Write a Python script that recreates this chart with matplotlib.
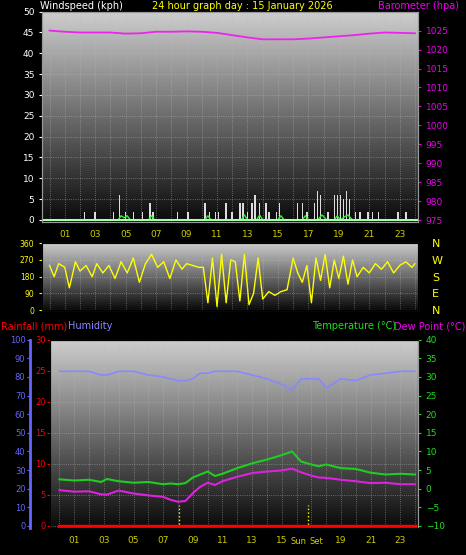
import numpy as np
import matplotlib.pyplot as plt

# ---- data ----
baro_hours = [0, 1, 2, 4, 5, 6, 7, 8, 9, 10, 11, 12, 13, 14, 15, 16, 17, 18, 19, 20, 21, 22, 23, 24]
baro_hpa = [1025, 1024.7, 1024.5, 1024.5, 1024.2, 1024.3, 1024.7, 1024.7, 1024.8, 1024.7, 1024.4, 1023.8,
            1023.2, 1022.7, 1022.7, 1022.7, 1022.9, 1023.2, 1023.5, 1023.8, 1024.2, 1024.5, 1024.4, 1024.3]

gust_hours = [2.3, 3.0, 4.2, 4.6, 5.0, 5.5, 6.1, 6.6, 6.8, 8.4, 9.1, 10.2, 10.5, 10.9, 11.1, 11.6, 12.0,
              12.5, 12.7, 13.0, 13.3, 13.5, 13.8, 14.2, 14.4, 14.9, 15.1, 16.3, 16.6, 16.9, 17.4, 17.6,
              17.8, 18.3, 18.7, 18.9, 19.1, 19.3, 19.5, 19.7, 20.1, 20.4, 20.9, 21.2, 21.6, 22.9, 23.4]
gust_kph = [2, 2, 2, 6, 2, 2, 2, 4, 2, 2, 2, 4, 2, 2, 2, 4, 2, 4, 4, 2, 4, 6, 4, 4, 2, 2, 4, 4, 4, 2, 4, 7,
            6, 2, 6, 6, 6, 5, 7, 5, 2, 2, 2, 2, 2, 2, 2]
avg_hours = [0, 4.5, 4.7, 4.9, 5.1, 5.3, 6.5, 6.7, 6.9, 10.2, 10.4, 10.6, 12.6, 12.8, 13.0, 13.6, 13.8,
             14.0, 15.0, 15.2, 15.4, 16.6, 16.8, 17.0, 17.6, 17.9, 18.2, 18.7, 18.9, 19.1, 19.4, 19.6,
             19.9, 24]
avg_kph = [0, 0, 1, 0.5, 1, 0, 0, 1, 0, 0, 1, 0, 0, 1.2, 0, 0, 1.2, 0, 0, 1, 0, 0, 1, 0, 0, 1.2, 0, 0, 1,
           0, 0.8, 1.2, 0, 0]

dir_hours = [0, 0.3, 0.6, 1.0, 1.3, 1.7, 2.0, 2.4, 2.8, 3.1, 3.5, 3.9, 4.3, 4.7, 5.1, 5.5, 5.9, 6.3, 6.7,
             7.1, 7.5, 7.9, 8.3, 8.7, 9.0, 9.4, 9.8, 10.1, 10.4, 10.7, 11.0, 11.3, 11.6, 11.9, 12.2, 12.5,
             12.8, 13.1, 13.4, 13.7, 14.0, 14.4, 14.8, 15.2, 15.6, 16.0, 16.3, 16.6, 16.9, 17.2, 17.5,
             17.8, 18.1, 18.4, 18.7, 19.0, 19.3, 19.6, 19.9, 20.2, 20.6, 21.0, 21.4, 21.8, 22.2, 22.6,
             23.0, 23.4, 23.8, 24]
dir_deg = [240, 180, 250, 230, 120, 260, 210, 240, 180, 250, 200, 240, 170, 260, 200, 280, 150, 250,
           300, 230, 260, 170, 270, 220, 250, 240, 230, 230, 40, 280, 20, 300, 40, 270, 260, 50, 300,
           30, 90, 280, 60, 100, 80, 100, 110, 280, 200, 150, 240, 40, 280, 160, 300, 120, 270, 170,
           290, 140, 270, 180, 230, 200, 250, 220, 260, 200, 240, 260, 230, 250]

th_hours = [0, 1, 2, 2.8, 3.2, 4, 5, 6, 7, 7.5, 8, 8.5, 9, 9.5, 10, 10.5, 11, 12, 13, 14, 15, 15.7,
            16.3, 17, 17.5, 18, 19, 20, 21, 22, 23, 24]
temp_c = [2.5, 2.2, 2.4, 1.8, 2.6, 2.0, 1.6, 1.8, 1.2, 1.4, 1.2, 1.5, 3.0, 3.8, 4.6, 3.4, 4.0, 5.5,
          6.8, 7.8, 9.0, 10.0, 7.3, 6.5, 6.0, 6.5, 5.5, 5.3, 4.3, 3.8, 4.0, 3.8]
dew_c = [-0.4, -0.8, -0.7, -1.5, -1.6, -0.5, -1.3, -1.8, -2.2, -3.0, -3.5, -3.3, -1.2, 0.5, 1.6, 1.0,
         2.0, 3.2, 4.2, 4.6, 4.9, 5.4, 4.4, 3.5, 3.0, 2.9, 2.4, 2.0, 1.5, 1.6, 1.2, 1.2]
hum_pct = [83, 83, 83, 81, 81, 83, 83, 81, 80, 79, 78, 78, 79, 82, 82, 83, 83, 83, 81, 79, 76, 73, 79,
           79, 79, 74, 79, 78, 81, 82, 83, 83]
rain_mm = [0] * len(th_hours)

sunrise = 8.1
sunset = 16.8

fs = 6.5
tick_col = "#cccc00"

fig = plt.figure(figsize=(4.66, 5.55), dpi=100, facecolor="black")

grad = np.linspace(0, 1, 256).reshape(-1, 1)


def prep(ax, xmin, skip=()):
    ax.set_facecolor("black")
    ax.imshow(grad, cmap="gray", vmin=-0.05, vmax=1.25, aspect="auto",
              extent=[0, 1, 0, 1], transform=ax.transAxes, zorder=0, origin="lower")
    ax.set_xlim(xmin, 24.2)
    ax.set_xticks(range(0, 25))
    ax.set_xticklabels([("%02d" % h if h % 2 == 1 and h not in skip else "") for h in range(0, 25)],
                       color=tick_col, fontsize=fs)
    ax.tick_params(axis="x", length=0, pad=6)
    ax.grid(True, color="#bbbbbb", linestyle=":", linewidth=0.6, alpha=0.6)
    ax.set_axisbelow(False)
    for s in ax.spines.values():
        s.set_color("#999999")


# ---- wind / barometer ----
ax1 = fig.add_axes([0.090, 0.600, 0.807, 0.379])
prep(ax1, -0.5)
ax1.set_ylim(-0.5, 50)
ax1.set_yticks(range(0, 51, 5))
ax1.tick_params(axis="y", colors="white", labelsize=fs, length=2)
ax1.bar(gust_hours, gust_kph, width=0.1, color="#dddddd", zorder=3)
ax1.plot(avg_hours, avg_kph, color="#33ee33", lw=1, zorder=4)
ax1.axhline(0, color="#aaffaa", lw=1.5, zorder=4)
ax1b = ax1.twinx()
ax1b.set_ylim(974.5, 1030)
ax1b.set_yticks(range(975, 1030, 5))
ax1b.tick_params(axis="y", colors="#ee00ee", labelsize=fs, length=2)
for s in ax1b.spines.values():
    s.set_color("#999999")
ax1b.plot(baro_hours, baro_hpa, color="#ee22ee", lw=1.3)

fig.text(0.085, 0.990, "Windspeed (kph)", color="white", fontsize=7, va="center")
fig.text(0.52, 0.990, "24 hour graph day : 15 January 2026", color="yellow", fontsize=7,
         va="center", ha="center")
fig.text(0.985, 0.990, "Barometer (hpa)", color="#ee00ee", fontsize=7, va="center", ha="right")

# ---- wind direction ----
ax2 = fig.add_axes([0.090, 0.441, 0.807, 0.121])
prep(ax2, -0.5)
ax2.set_ylim(0, 360)
ax2.set_yticks([0, 90, 180, 270, 360])
ax2.tick_params(axis="y", colors="yellow", labelsize=fs - 1, length=2)
ax2.set_xticklabels([])
ax2.plot(dir_hours, dir_deg, color="yellow", lw=1)
ax2b = ax2.twinx()
ax2b.set_ylim(0, 360)
ax2b.set_yticks([0, 90, 180, 270, 360])
ax2b.set_yticklabels(["N", "E", "S", "W", "N"])
ax2b.tick_params(axis="y", colors="yellow", labelsize=8, length=0, pad=10)

# ---- temperature / humidity ----
ax3 = fig.add_axes([0.107, 0.049, 0.790, 0.339])
prep(ax3, -0.65, skip=(17,))
ax3.set_ylim(-0.3, 30)
ax3.set_yticks(range(0, 31, 5))
ax3.tick_params(axis="y", colors="red", labelsize=fs - 0.5, length=2, pad=1)
ax3.spines["left"].set_color("red")
ax3.plot(th_hours, rain_mm, color="red", lw=2.5, zorder=5)
ax3.axvline(sunrise, ymax=0.12, color="yellow", ls=":", lw=1)
ax3.axvline(sunset, ymax=0.12, color="yellow", ls=":", lw=1)
ax3.text(sunset - 0.1, -0.05, "Sun", transform=ax3.get_xaxis_transform(), color=tick_col,
         fontsize=fs - 0.5, ha="right", va="top")
ax3.text(sunset + 0.1, -0.05, "Set", transform=ax3.get_xaxis_transform(), color=tick_col,
         fontsize=fs - 0.5, ha="left", va="top")

axh = ax3.twinx()
axh.spines["left"].set_position(("axes", -0.055))
axh.spines["left"].set_visible(True)
axh.spines["left"].set_color("#6666ff")
axh.spines["left"].set_linewidth(2)
axh.yaxis.set_label_position("left")
axh.yaxis.set_ticks_position("left")
axh.set_ylim(-1, 100)
axh.set_yticks(range(0, 101, 10))
axh.tick_params(axis="y", colors="#6666ff", labelsize=fs - 0.5, length=2, pad=1)
axh.plot(th_hours, hum_pct, color="#8888ff", lw=1.2)

axt = ax3.twinx()
axt.set_ylim(-10.5, 40)
axt.set_yticks(range(-10, 41, 5))
axt.tick_params(axis="y", colors="#22dd22", labelsize=fs, length=2)
axt.spines["right"].set_color("#999999")
axt.plot(th_hours, temp_c, color="#22cc22", lw=1.5)
axt.plot(th_hours, dew_c, color="#dd22dd", lw=1.5)

fig.text(0.002, 0.412, "Rainfall (mm)", color="red", fontsize=7, va="center")
fig.text(0.145, 0.412, "Humidity", color="#8888ff", fontsize=7, va="center")
fig.text(0.67, 0.412, "Temperature (\u00b0C)", color="#22dd22", fontsize=7, va="center")
fig.text(0.998, 0.412, "Dew Point (\u00b0C)", color="#ee00ee", fontsize=7, va="center", ha="right")

fig.savefig("out.png", dpi=100, facecolor="black")
